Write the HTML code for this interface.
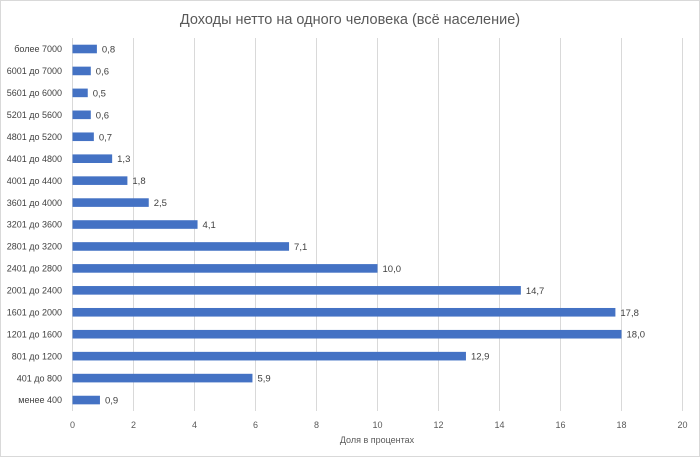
<!DOCTYPE html>
<html><head><meta charset="utf-8"><style>
html,body{margin:0;padding:0;background:#fff}
svg{display:block;font-family:"Liberation Sans","DejaVu Sans",sans-serif}
</style></head><body>
<svg width="700" height="457" viewBox="0 0 700 457" xmlns="http://www.w3.org/2000/svg">
<rect x="0.5" y="0.5" width="699" height="456" fill="#fff" stroke="#d9d9d9"/>
<text x="350" y="24" text-anchor="middle" font-size="14.5" fill="#595959">Доходы нетто на одного человека (всё население)</text>
<g stroke="#d9d9d9" stroke-width="1">
<line x1="72.5" y1="38" x2="72.5" y2="411"/><line x1="133.5" y1="38" x2="133.5" y2="411"/><line x1="194.5" y1="38" x2="194.5" y2="411"/><line x1="255.5" y1="38" x2="255.5" y2="411"/><line x1="316.5" y1="38" x2="316.5" y2="411"/><line x1="377.5" y1="38" x2="377.5" y2="411"/><line x1="438.5" y1="38" x2="438.5" y2="411"/><line x1="499.5" y1="38" x2="499.5" y2="411"/><line x1="560.5" y1="38" x2="560.5" y2="411"/><line x1="621.5" y1="38" x2="621.5" y2="411"/><line x1="682.5" y1="38" x2="682.5" y2="411"/>
</g>
<g font-size="9" fill="#595959" text-anchor="middle">
<text x="72.5" y="428">0</text><text x="133.5" y="428">2</text><text x="194.5" y="428">4</text><text x="255.5" y="428">6</text><text x="316.5" y="428">8</text><text x="377.5" y="428">10</text><text x="438.5" y="428">12</text><text x="499.5" y="428">14</text><text x="560.5" y="428">16</text><text x="621.5" y="428">18</text><text x="682.5" y="428">20</text>
<text x="377" y="443">Доля в процентах</text>
</g>
<g id="bars" fill="#4472c4"></g>
<g id="labs" font-size="9" fill="#404040"></g>
<script>
var cats=["более 7000","6001 до 7000","5601 до 6000","5201 до 5600","4801 до 5200","4401 до 4800","4001 до 4400","3601 до 4000","3201 до 3600","2801 до 3200","2401 до 2800","2001 до 2400","1601 до 2000","1201 до 1600","801 до 1200","401 до 800","менее 400"];
var v=[0.8,0.6,0.5,0.6,0.7,1.3,1.8,2.5,4.1,7.1,10.0,14.7,17.8,18.0,12.9,5.9,0.9];
var ns="http://www.w3.org/2000/svg",b=document.getElementById("bars"),l=document.getElementById("labs");
for(var i=0;i<17;i++){var y=49+i*21.94;
var r=document.createElementNS(ns,"rect");r.setAttribute("x",72.5);r.setAttribute("y",y-4.3);r.setAttribute("width",v[i]*30.5);r.setAttribute("height",8.6);b.appendChild(r);
var t=document.createElementNS(ns,"text");t.setAttribute("x",62);t.setAttribute("y",y+3.2);t.setAttribute("text-anchor","end");t.textContent=cats[i];l.appendChild(t);
var t2=document.createElementNS(ns,"text");t2.setAttribute("x",72.5+v[i]*30.5+5);t2.setAttribute("y",y+3.5);t2.setAttribute("font-size","9.5");t2.textContent=v[i].toFixed(1).replace(".",",");l.appendChild(t2);}
</script>
</svg>
</body></html>
